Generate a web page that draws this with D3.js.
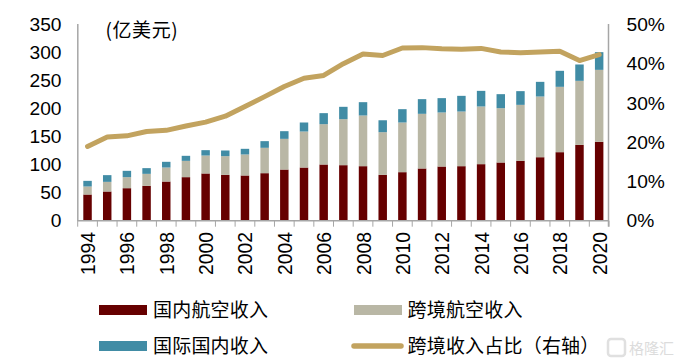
<!DOCTYPE html>
<html><head><meta charset="utf-8">
<script src="https://cdn.jsdelivr.net/npm/d3@7/dist/d3.min.js"></script>
<style>html,body{margin:0;padding:0;background:#fff}svg{display:block}
text{font-family:"Liberation Sans",Arial,sans-serif;fill:#000}
.cjk{font-family:"Noto Sans CJK SC","Noto Sans",sans-serif}</style></head><body>
<svg id="c" width="681" height="364"></svg>
<script>
const years=d3.range(1994,2021).map(String);
const domestic=[46.4,51.8,57.7,61.9,69.6,77.4,84,81.5,80.4,84.5,91,94.6,100,98.8,97,81.5,86.3,92.9,96.4,97,100.6,103.6,106.5,113,122,135,140.5];
const crossBorder=[14.3,17.2,19.7,21.4,25,29.1,32,33.4,37.5,45.3,54.8,64.3,72,82.2,90.5,76.2,88.7,97.6,96.5,97.6,103,97,100,108.4,116.7,114.4,128.5];
const international=[10.1,12,11.3,10.2,10.2,9,9.6,10.1,10.1,11.9,13.7,16.1,19.7,22,23.8,21.3,23.8,26.2,25.6,28,27.9,25,24.5,26.2,28.6,29.2,31.6];
const share=[18.9,21.3,21.6,22.7,23.0,24.1,25.1,26.6,29.1,31.6,34.2,36.3,37.0,40.0,42.5,42.1,44.0,44.1,43.8,43.7,43.9,43.0,42.8,43.0,43.2,40.8,42.3];
const leftTicks=[0,50,100,150,200,250,300,350];
const rightTicks=[0,10,20,30,40,50];
const seriesNames=["国内航空收入","跨境航空收入","国际国内收入","跨境收入占比（右轴）"];
const colors=["#660000","#b9b7a5","#418ca5","#c2a35f"];
const unitLabel="(亿美元)";
const watermark="格隆汇";

const svg=d3.select("#c");
const x=d3.scaleBand().domain(years).range([77.7,609]).paddingInner(0.57).paddingOuter(0.285);
const yL=d3.scaleLinear().domain([0,350]).range([220.5,24.5]);
const yR=d3.scaleLinear().domain([0,50]).range([220.5,24.5]);
const rows=years.map((y,i)=>({year:y,a:domestic[i],b:crossBorder[i],c:international[i]}));
const stacked=d3.stack().keys(["a","b","c"])(rows);
svg.selectAll("g.s").data(stacked).join("g").attr("class","s").attr("fill",(d,i)=>colors[i])
 .selectAll("rect").data(d=>d).join("rect")
 .attr("x",d=>x(d.data.year)).attr("width",x.bandwidth())
 .attr("y",d=>yL(d[1])).attr("height",d=>yL(d[0])-yL(d[1]));

const grey="#a6a6a6";
const gx=svg.append("g");
gx.append("line").attr("x1",77.7).attr("x2",609).attr("y1",220.7).attr("y2",220.7).attr("stroke",grey).attr("stroke-width",1.5);
gx.selectAll("line.t").data(d3.range(28)).join("line").attr("class","t")
 .attr("x1",i=>77.7+i*(609-77.7)/27).attr("x2",i=>77.7+i*(609-77.7)/27)
 .attr("y1",220.7).attr("y2",226.7).attr("stroke",grey).attr("stroke-width",1);
svg.append("line").attr("x1",77.8).attr("x2",77.8).attr("y1",24).attr("y2",221).attr("stroke",grey).attr("stroke-width",1.5);
svg.append("line").attr("x1",608.5).attr("x2",608.5).attr("y1",24).attr("y2",226.7).attr("stroke",grey).attr("stroke-width",1.5);

const ln=d3.line().x((d,i)=>x(years[i])+x.bandwidth()/2).y(d=>yR(d));
svg.append("path").datum(share).attr("d",ln).attr("fill","none").attr("stroke",colors[3]).attr("stroke-width",5).attr("stroke-linecap","round").attr("stroke-linejoin","round");

const fs=19.2;
const aL=svg.append("g").attr("transform","translate(61.5,0)").call(d3.axisLeft(yL).tickValues(leftTicks).tickSize(0).tickPadding(0));
aL.select(".domain").remove();
aL.selectAll("text").style("font-family",'"Liberation Sans"').attr("font-size",fs).attr("fill","#000");
const aR=svg.append("g").attr("transform","translate(626.5,0)").call(d3.axisRight(yR).tickValues(rightTicks).tickFormat(d=>d+"%").tickSize(0).tickPadding(0));
aR.select(".domain").remove();
aR.selectAll("text").style("font-family",'"Liberation Sans"').attr("font-size",fs).attr("fill","#000");

svg.append("g").selectAll("text").data(years.filter((d,i)=>i%2==0)).join("text")
 .attr("transform",d=>`translate(${x(d)+x.bandwidth()/2+7.5},275) rotate(-90)`)
 .attr("font-size",19.4).text(d=>d);

svg.append("text").attr("class","cjk").attr("x",105.5).attr("y",37).attr("font-size",19).attr("letter-spacing",0.6).text(unitLabel);

const leg=[{x:99,cy:310,tx:153},{x:354,cy:310,tx:407.5},{x:99,cy:346,tx:153},{x:354,cy:346,tx:407.5}];
leg.forEach((l,i)=>{
  if(i<3) svg.append("rect").attr("x",l.x).attr("y",l.cy-5).attr("width",48).attr("height",10).attr("fill",colors[i]);
  else svg.append("line").attr("x1",354).attr("x2",401).attr("y1",l.cy).attr("y2",l.cy).attr("stroke",colors[3]).attr("stroke-width",5.5).attr("stroke-linecap","round");
  svg.append("text").attr("class","cjk").attr("x",l.tx).attr("y",l.cy+7).attr("font-size",19).attr("letter-spacing",0.2).text(seriesNames[i]);
});
svg.append("rect").attr("x",608).attr("y",339).attr("width",17).attr("height",17).attr("rx",3).attr("fill","none").attr("stroke","#e0e0e0").attr("stroke-width",2.5);
svg.append("text").attr("class","cjk").attr("x",629).attr("y",354).attr("font-size",15).style("fill","#dcdcdc").text(watermark);
</script></body></html>
